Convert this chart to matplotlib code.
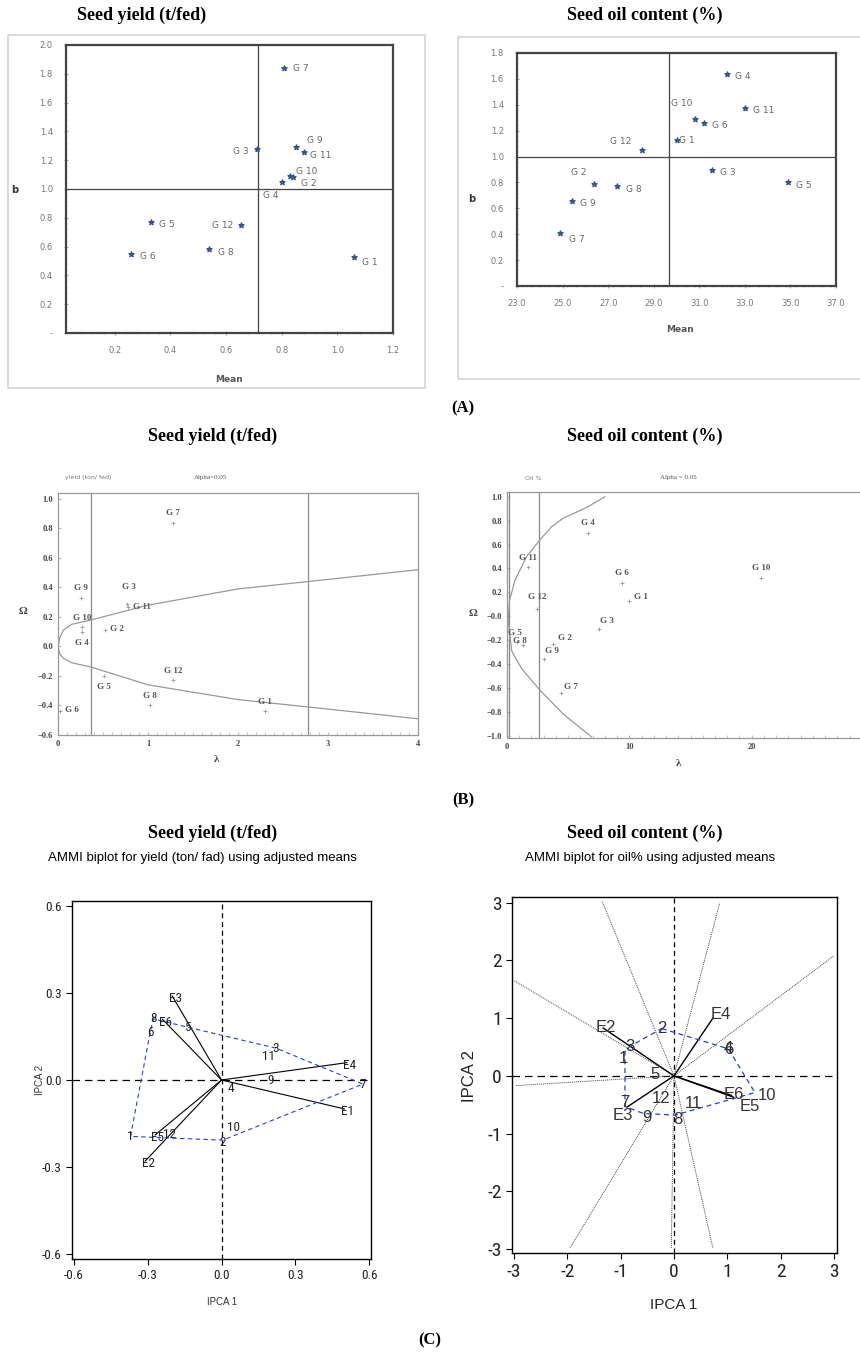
import numpy as np
import matplotlib
matplotlib.use('Agg')
import matplotlib.pyplot as plt
from matplotlib.patches import Rectangle
from matplotlib.ticker import MultipleLocator

W, H = 860, 1355

# ---------------- data ----------------
genotypes = ['G %d' % i for i in range(1, 13)]
gen_nums = [str(i) for i in range(1, 13)]

# (A) regression stability: mean vs b
yield_mean = [1.06, 0.84, 0.71, 0.80, 0.33, 0.26, 0.81, 0.54, 0.85, 0.83, 0.88, 0.655]
yield_b = [0.53, 1.08, 1.28, 1.05, 0.77, 0.55, 1.84, 0.58, 1.29, 1.09, 1.26, 0.75]
oil_mean = [30.0, 26.4, 31.55, 32.2, 34.9, 31.2, 24.9, 27.4, 25.4, 30.8, 33.0, 28.5]
oil_b = [1.125, 0.79, 0.90, 1.64, 0.80, 1.26, 0.41, 0.77, 0.66, 1.29, 1.375, 1.05]

# (B) Tai stability: lambda vs alpha
yield_lam = [2.3, 0.52, 0.77, 0.27, 0.51, 0.02, 1.28, 1.02, 0.26, 0.27, 0.78, 1.28]
yield_alpha = [-0.44, 0.11, 0.29, 0.10, -0.20, -0.44, 0.84, -0.40, 0.33, 0.13, 0.27, -0.23]
yield_curve_lam = [0, 0.02, 0.06, 0.15, 0.37, 1.0, 2.0, 2.78, 4.0]
yield_curve_up = [0, 0.06, 0.11, 0.15, 0.18, 0.28, 0.39, 0.44, 0.52]
yield_curve_lo = [0, -0.05, -0.08, -0.11, -0.14, -0.26, -0.36, -0.41, -0.49]
yield_lam_crit = [0.37, 2.78]

oil_lam = [10.0, 3.8, 7.5, 6.6, 0.8, 9.4, 4.4, 1.3, 3.0, 20.8, 1.7, 2.45]
oil_alpha = [0.13, -0.23, -0.11, 0.70, -0.22, 0.28, -0.64, -0.24, -0.36, 0.32, 0.41, 0.06]
oil_curve_lam = [8.0, 6.5, 4.6, 3.65, 2.7, 1.6, 0.65, 0.2, 0.1, 0.38, 1.2, 2.7, 4.6, 6.9]
oil_curve_alpha = [1.0, 0.91, 0.82, 0.75, 0.64, 0.50, 0.30, 0.13, -0.03, -0.29, -0.44, -0.62, -0.82, -1.01]
oil_lam_crit = [0.2, 2.6]

# (C) AMMI biplots
env_names_y = ['E1', 'E2', 'E3', 'E4', 'E5', 'E6']
env_y_pc1 = [0.50, -0.31, -0.20, 0.51, -0.27, -0.24]
env_y_pc2 = [-0.10, -0.28, 0.29, 0.06, -0.19, 0.21]
gen_y_pc1 = [-0.37, 0.005, 0.222, 0.04, -0.14, -0.29, 0.575, -0.277, 0.20, 0.03, 0.19, -0.21]
gen_y_pc2 = [-0.195, -0.208, 0.11, -0.03, 0.18, 0.165, -0.014, 0.211, 0.0, -0.18, 0.08, -0.19]
hull_y = [1, 6, 8, 3, 7, 2, 1]

env_names_o = ['E2', 'E3', 'E4', 'E6', 'E5']
env_o_pc1 = [-1.33, -0.88, 0.73, 1.08, 1.12]
env_o_pc2 = [0.83, -0.54, 1.0, -0.34, -0.37]
gen_o_pc1 = [-0.92, -0.23, -0.83, 1.02, -0.35, 1.02, -0.92, 0.02, -0.58, 1.52, 0.37, -0.25]
gen_o_pc2 = [0.42, 0.82, 0.51, 0.47, 0.02, 0.45, -0.53, -0.68, -0.65, -0.29, -0.48, -0.40]
hull_o = [2, 4, 10, 8, 9, 7, 1, 3, 2]
sector_x = [-3.0, -1.35, 0.86, 3.0, -2.98, -1.95, -0.05, 0.73]
sector_y = [1.65, 3.03, 3.0, 2.08, -0.17, -2.98, -2.98, -2.98]

SERIF = ['Liberation Serif', 'DejaVu Serif']
SANS = ['Liberation Sans', 'DejaVu Sans']
NARROW = ['Liberation Sans Narrow', 'Roboto Condensed', 'DejaVu Sans']


def box(x0, y0, x1, y1):
    return [x0 / W, 1 - y1 / H, (x1 - x0) / W, (y1 - y0) / H]


fig = plt.figure(figsize=(8.6, 13.55), dpi=100)


def ftext(x, y, s, **kw):
    fig.text(x / W, 1 - y / H, s, **kw)


def frame(x0, y0, x1, y1, color='#d4d4d4'):
    fig.add_artist(Rectangle((x0 / W, 1 - y1 / H), (x1 - x0) / W, (y1 - y0) / H,
                             transform=fig.transFigure, fill=False, ec=color, lw=1.2))


title_kw = dict(family=SERIF, fontweight='bold', fontsize=13, ha='center', va='center')
ftext(142, 15, 'Seed yield (t/fed)', **title_kw)
ftext(645, 15, 'Seed oil content (%)', **title_kw)
ftext(213, 436, 'Seed yield (t/fed)', **title_kw)
ftext(645, 436, 'Seed oil content (%)', **title_kw)
ftext(213, 833, 'Seed yield (t/fed)', **title_kw)
ftext(645, 833, 'Seed oil content (%)', **title_kw)
ftext(202, 858, 'AMMI biplot for yield (ton/ fad) using adjusted means',
      family=SANS, fontsize=9.5, ha='center', va='center')
ftext(650, 858, 'AMMI biplot for oil% using adjusted means',
      family=SANS, fontsize=9.5, ha='center', va='center')
for lab, x, y in (('(A)', 463, 408), ('(B)', 463, 800), ('(C)', 430, 1340)):
    ftext(x, y, lab, family=SERIF, fontweight='bold', fontsize=12, ha='center', va='center')


# ---------------- (A) ----------------
def excel_panel(rect, xs, ys, xlim, ylim, xticks, yticks, offsets):
    ax = fig.add_axes(rect)
    ax.set_xlim(*xlim)
    ax.set_ylim(*ylim)
    ax.axvline(np.mean(xs), color='#444', lw=0.9)
    ax.axhline(1.0, color='#444', lw=0.9)
    ax.scatter(xs, ys, marker='*', s=14, color='#3b5585', zorder=3)
    for i, (x, y) in enumerate(zip(xs, ys)):
        dx, dy = offsets.get(i + 1, (6, -2))
        ax.annotate(genotypes[i], (x, y), xytext=(dx, dy), textcoords='offset points',
                    fontsize=6.5, color='#666', va='center', ha='left' if dx >= 0 else 'right')
    ax.set_xticks(xticks)
    ax.set_xticklabels(['%.1f' % t for t in xticks])
    ax.set_yticks(yticks)
    ax.set_yticklabels(['-' if t == 0 else '%.1f' % t for t in yticks])
    ax.xaxis.set_minor_locator(MultipleLocator((xticks[1] - xticks[0]) / 5))
    ax.yaxis.set_minor_locator(MultipleLocator(0.04))
    ax.tick_params(which='both', direction='inout', length=3, color='#aaa',
                   labelsize=6, labelcolor='#777', pad=8)
    ax.tick_params(which='minor', length=2)
    for sp in ax.spines.values():
        sp.set_color('#444')
        sp.set_linewidth(1.6)
    return ax


frame(8, 35, 425, 388)
excel_panel(box(66, 45, 393, 333), yield_mean, yield_b, (0.025, 1.2), (0, 2.0),
            [0.2, 0.4, 0.6, 0.8, 1.0, 1.2], np.arange(0, 2.01, 0.2),
            {1: (6, -4), 2: (6, -4), 3: (-6, -2), 4: (-2, -10), 9: (8, 5),
             10: (4, 3), 11: (4, -3), 12: (-6, 0), 7: (6, 0)})
ftext(15, 190, 'b', fontsize=7, fontweight='bold', color='#333', ha='center', va='center')
ftext(229, 379, 'Mean', fontsize=6.5, fontweight='bold', color='#555', ha='center', va='center')

frame(458, 37, 870, 379)
excel_panel(box(517, 53, 836, 286), oil_mean, oil_b, (23, 37), (0, 1.8),
            [23, 25, 27, 29, 31, 33, 35, 37], np.arange(0, 1.81, 0.2),
            {2: (-6, 8), 12: (-8, 6), 10: (-2, 11), 7: (6, -5), 1: (2, 0)})
ftext(472, 199, 'b', fontsize=7, fontweight='bold', color='#333', ha='center', va='center')
ftext(680, 329, 'Mean', fontsize=6.5, fontweight='bold', color='#555', ha='center', va='center')


# ---------------- (B) ----------------
def tai_panel(rect, lam, alpha, xlim, ylim, xticks, yticks, offsets):
    ax = fig.add_axes(rect)
    ax.set_xlim(*xlim)
    ax.set_ylim(*ylim)
    ax.plot(lam, alpha, ls='none', marker='+', ms=3, mew=0.6, color='#999')
    for i, (x, y) in enumerate(zip(lam, alpha)):
        dx, dy = offsets.get(i + 1, (0, 7))
        ax.annotate(genotypes[i], (x, y), xytext=(dx, dy), textcoords='offset points',
                    family=SERIF, fontsize=6.5, fontweight='bold', color='#555',
                    ha='center', va='center')
    ax.set_xticks(xticks)
    ax.set_xticklabels(['%d' % t for t in xticks])
    ax.set_yticks(yticks)
    ax.set_yticklabels([('%.1f' % t).replace('-', '\u2212') for t in yticks])
    ax.xaxis.set_minor_locator(MultipleLocator((xticks[1] - xticks[0]) / 10))
    ax.tick_params(which='both', direction='in', length=2, color='#bbb', labelsize=6)
    for lab in ax.get_xticklabels() + ax.get_yticklabels():
        lab.set_family(SERIF)
        lab.set_fontweight('bold')
        lab.set_color('#444')
    for sp in ax.spines.values():
        sp.set_color('#999')
        sp.set_linewidth(0.9)
    return ax


ax = tai_panel(box(58, 493, 418, 735), yield_lam, yield_alpha, (0, 4), (-0.6, 1.04),
               [0, 1, 2, 3, 4], np.arange(-0.6, 1.01, 0.2),
               {4: (0, -8), 5: (0, -8), 6: (9, 1), 2: (9, 1), 11: (10, 0), 3: (1, 12)})
for lc in yield_lam_crit:
    ax.axvline(lc, color='#888', lw=0.9)
ax.plot(yield_curve_lam, yield_curve_up, color='#999', lw=0.9)
ax.plot(yield_curve_lam, yield_curve_lo, color='#999', lw=0.9)
ftext(65, 478, 'yield (ton/ fed)', fontsize=4.5, color='#777', ha='left', va='center')
ftext(210, 478, 'Alpha=0.05', family=SERIF, fontsize=5, color='#555', ha='center', va='center')
ftext(23, 612, '\u03a9', family=SERIF, fontsize=8, fontweight='bold', color='#444', ha='center', va='center')
ftext(217, 760, '\u03bb', family=SERIF, fontsize=8, fontweight='bold', color='#444', ha='center', va='center')

# the oil panel runs past the right edge of the page, as in the source
ax = tai_panel(box(507, 492, 874, 738), oil_lam, oil_alpha, (0, 30), (-1.02, 1.04),
               [0, 10, 20], np.arange(-1.0, 1.01, 0.2),
               {1: (8, 3), 2: (8, 4), 3: (6, 6), 5: (-1, 7), 8: (-2, 3), 9: (6, 6), 7: (7, 4), 12: (0, 9)})
for lc in oil_lam_crit:
    ax.axvline(lc, color='#888', lw=0.9)
ax.plot(oil_curve_lam, oil_curve_alpha, color='#999', lw=0.9)
ftext(533, 478, 'Oil %', fontsize=4.5, color='#777', ha='center', va='center')
ftext(678, 478, 'Alpha = 0.05', family=SERIF, fontsize=5, color='#555', ha='center', va='center')
ftext(473, 613, '\u03a9', family=SERIF, fontsize=8, fontweight='bold', color='#444', ha='center', va='center')
ftext(679, 763, '\u03bb', family=SERIF, fontsize=8, fontweight='bold', color='#444', ha='center', va='center')


# ---------------- (C) ----------------
def ammi_panel(rect, xlim, ylim, ticks, tickfmt, ticksize):
    ax = fig.add_axes(rect)
    ax.set_xlim(*xlim)
    ax.set_ylim(*ylim)
    ax.axhline(0, color='k', lw=0.9, ls=(0, (6, 4)), zorder=1)
    ax.axvline(0, color='k', lw=0.9, ls=(0, (4, 3)), zorder=1)
    ax.set_xticks(ticks)
    ax.set_yticks(ticks)
    ax.set_xticklabels([tickfmt % t for t in ticks])
    ax.set_yticklabels([tickfmt % t for t in ticks])
    ax.tick_params(direction='out', length=4, width=0.8, labelsize=ticksize, top=False, right=False)
    for lab in ax.get_xticklabels() + ax.get_yticklabels():
        lab.set_family(NARROW)
        lab.set_fontstretch('condensed')
        lab.set_color('#222')
    for sp in ax.spines.values():
        sp.set_color('k')
        sp.set_linewidth(1.0)
    return ax


ax = ammi_panel(box(72, 901, 371, 1259), (-0.608, 0.608), (-0.619, 0.619),
                [-0.6, -0.3, 0.0, 0.3, 0.6], '%.1f', 9.5)
for name, x, y in zip(env_names_y, env_y_pc1, env_y_pc2):
    ax.plot([0, x], [0, y], color='k', lw=0.8)
    ax.annotate(name, (x, y), xytext=(2, -2), textcoords='offset points', family=NARROW,
                fontstretch='condensed', fontsize=9.5, color='#222', ha='center', va='center')
hx = [gen_y_pc1[i - 1] for i in hull_y]
hy = [gen_y_pc2[i - 1] for i in hull_y]
ax.plot(hx, hy, color='#2b3be0', lw=0.8, ls=(0, (4, 3)))
gen_off_y = {10: (3, 3), 2: (0, -2)}
for i, (n, x, y) in enumerate(zip(gen_nums, gen_y_pc1, gen_y_pc2)):
    ax.annotate(n, (x, y), xytext=gen_off_y.get(i + 1, (0, 0)), textcoords='offset points',
                family=NARROW, fontstretch='condensed', fontsize=9.5, color='#222',
                ha='center', va='center')
ftext(222, 1302, 'IPCA 1', family=SANS, fontsize=7, color='#333', ha='center', va='center')
ftext(40, 1080, 'IPCA 2', family=SANS, fontsize=7, color='#333', ha='center', va='center', rotation=90)

ax = ammi_panel(box(512, 897, 837, 1253), (-3.04, 3.06), (-3.07, 3.1),
                [-3, -2, -1, 0, 1, 2, 3], '%d', 14)
for x, y in zip(sector_x, sector_y):
    ax.plot([0, x], [0, y], color='#444', lw=0.7, ls=(0, (1, 1)))
env_off_o = {'E2': (2, 0), 'E3': (-3, -6), 'E4': (6, 3), 'E6': (2, 1), 'E5': (12, -7)}
for name, x, y in zip(env_names_o, env_o_pc1, env_o_pc2):
    ax.plot([0, x], [0, y], color='k', lw=1.0)
    ax.annotate(name, (x, y), xytext=env_off_o[name], textcoords='offset points', family=SANS,
                fontsize=12, color='#333', ha='center', va='center')
hx = [gen_o_pc1[i - 1] for i in hull_o]
hy = [gen_o_pc2[i - 1] for i in hull_o]
ax.plot(hx, hy, color='#2b3be0', lw=0.9, ls=(0, (4, 3)))
gen_off_o = {1: (-1, -5), 7: (0, 3), 10: (9, -2), 9: (3, -3), 8: (2, -3)}
for i, (n, x, y) in enumerate(zip(gen_nums, gen_o_pc1, gen_o_pc2)):
    ax.annotate(n, (x, y), xytext=gen_off_o.get(i + 1, (0, 0)), textcoords='offset points',
                family=SANS, fontsize=12, color='#333', ha='center', va='center')
ftext(674, 1305, 'IPCA 1', family=SANS, fontsize=11, color='#222', ha='center', va='center')
ftext(470, 1076, 'IPCA 2', family=SANS, fontsize=12, color='#222', ha='center', va='center', rotation=90)

fig.savefig('out.png', dpi=100)
